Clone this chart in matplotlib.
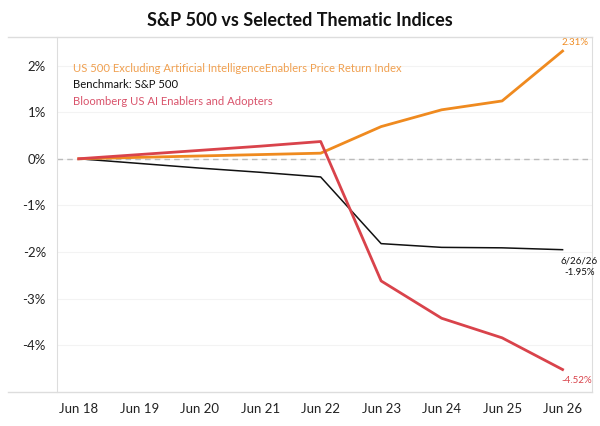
import matplotlib
matplotlib.use("Agg")
import matplotlib.pyplot as plt
from matplotlib.lines import Line2D

plt.rcParams['font.family'] = ['Lato', 'DejaVu Sans']

days = ['Jun 18', 'Jun 19', 'Jun 20', 'Jun 21', 'Jun 22', 'Jun 23', 'Jun 24', 'Jun 25', 'Jun 26']
ex_ai = [0.0, 0.03, 0.06, 0.09, 0.12, 0.69, 1.05, 1.24, 2.31]
spx = [0.0, -0.10, -0.20, -0.29, -0.39, -1.82, -1.90, -1.91, -1.95]
ai_enablers = [0.0, 0.09, 0.18, 0.27, 0.37, -2.62, -3.42, -3.84, -4.52]

ORANGE = '#ef8a1f'
RED = '#d9434b'
BLACK = '#111111'

fig = plt.figure(figsize=(6, 4.26), dpi=100)
ax = fig.add_axes([0.095, 0.08, 0.892, 0.833])

x = list(range(len(days)))
ax.axhline(0, color='#bbbbbb', lw=1, ls=(0, (4, 3)), zorder=1)
ax.plot(x, spx, color=BLACK, lw=1.1, zorder=3)
ax.plot(x, ex_ai, color=ORANGE, lw=2, zorder=4)
ax.plot(x, ai_enablers, color=RED, lw=2, zorder=5)

ax.set_xlim(-0.36, 8.49)
ax.set_ylim(-5, 2.61)
ax.set_xticks(x)
ax.set_xticklabels(days)
ax.set_yticks([-4, -3, -2, -1, 0, 1, 2])
ax.set_yticklabels(['-4%', '-3%', '-2%', '-1%', '0%', '1%', '2%'])
ax.tick_params(length=0, labelsize=9.5, colors='#222222')
ax.tick_params(axis='x', pad=8)
ax.tick_params(axis='y', pad=8)
ax.grid(axis='y', color='#f3f3f3', lw=0.8)
ax.set_axisbelow(True)
for s in ['top', 'bottom']:
    ax.spines[s].set_visible(False)
ax.spines['left'].set_color('#dddddd')
ax.spines['right'].set_color('#dddddd')

# frame lines reaching out to the left edge
fig.add_artist(Line2D([0.013, 0.987], [0.913, 0.913], color='#dddddd', lw=1))
fig.add_artist(Line2D([0.013, 0.987], [0.08, 0.08], color='#dddddd', lw=1))

# end labels
ax.annotate('%.2f%%' % ex_ai[-1], (x[-1], ex_ai[-1]), xytext=(9, 4),
            textcoords='offset points', ha='center', fontsize=7, color=ORANGE)
ax.annotate('6/26/26\n%.2f%%' % spx[-1], (x[-1], spx[-1]), xytext=(12, -5),
            textcoords='offset points', ha='center', va='top', fontsize=7,
            color=BLACK, linespacing=1.3)
ax.annotate('%.2f%%' % ai_enablers[-1], (x[-1], ai_enablers[-1]), xytext=(10, -5),
            textcoords='offset points', ha='center', va='top', fontsize=7, color=RED)

# legend as text
ax.text(0.03, 0.912, 'US 500 Excluding Artificial IntelligenceEnablers Price Return Index',
        transform=ax.transAxes, fontsize=8.1, color='#f0a050', va='center')
ax.text(0.03, 0.865, 'Benchmark: S&P 500', transform=ax.transAxes, fontsize=8.1,
        color=BLACK, va='center')
ax.text(0.03, 0.818, 'Bloomberg US AI Enablers and Adopters', transform=ax.transAxes,
        fontsize=8.1, color='#d9536b', va='center')

fig.text(0.5, 0.953, 'S&P 500 vs Selected Thematic Indices', ha='center', va='center',
         fontsize=13, fontweight='bold', color='#111111')

fig.savefig('out.png', dpi=100)
